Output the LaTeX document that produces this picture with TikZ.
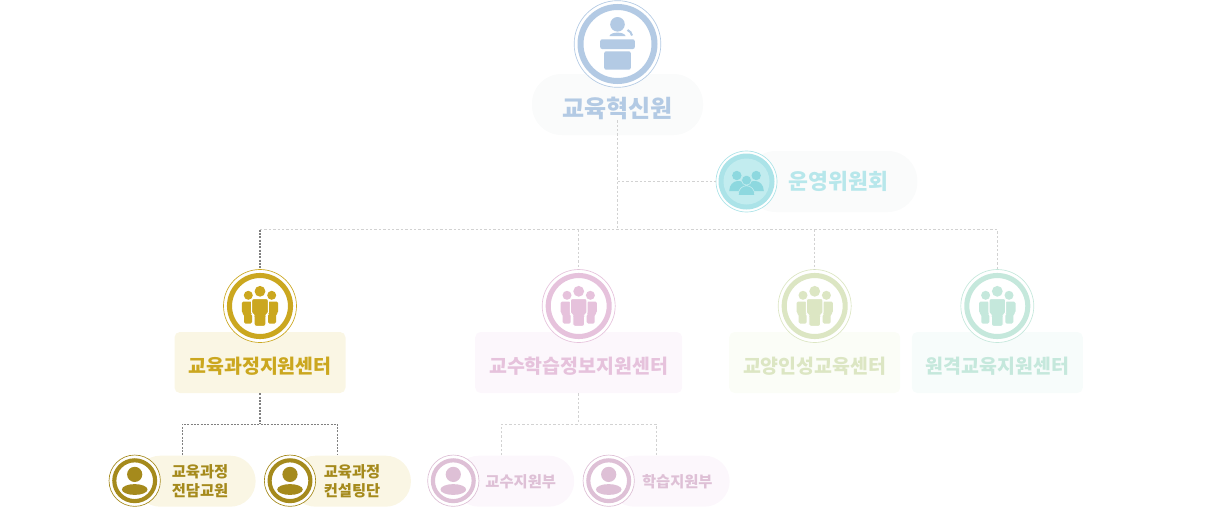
\documentclass[tikz,border=0pt]{standalone}
\usepackage{fontspec}
\setmainfont{Noto Sans CJK KR}
\definecolor{TopBlue}{HTML}{B3CAE4}
\definecolor{TopSoft}{HTML}{FAFBFB}
\definecolor{TeamCyan}{HTML}{ABE3E8}
\definecolor{TeamIcon}{HTML}{8DD8DF}
\definecolor{TeamInner}{HTML}{C2ECEF}
\definecolor{TeamText}{HTML}{B7E7EB}
\definecolor{GoldMain}{HTML}{CBA71F}
\definecolor{GoldSoft}{HTML}{FAF6E4}
\definecolor{GoldDeep}{HTML}{A58A1C}
\definecolor{PinkMain}{HTML}{E6C2DC}
\definecolor{PinkSoft}{HTML}{FCF7FC}
\definecolor{PinkDeep}{HTML}{DEC0D6}
\definecolor{LimeMain}{HTML}{DCE6C3}
\definecolor{LimeSoft}{HTML}{FBFDF7}
\definecolor{MintMain}{HTML}{C5E8DC}
\definecolor{MintSoft}{HTML}{F7FCFB}
\definecolor{LaneGray}{HTML}{D2D2D2}
\definecolor{LaneDark}{HTML}{808080}
\tikzset{
  lane/.style={LaneGray,line width=.75pt,dash pattern=on 1.8pt off 1.5pt},
  lanedark/.style={LaneDark,line width=1pt,dash pattern=on 1.5pt off 1pt},
  thinring/.style={circle,draw=#1,line width=.5pt,fill=white,inner sep=0pt},
  ringbig/.style={thinring=#1,minimum size=65pt},
  ringmid/.style={thinring=#1,minimum size=54.75pt},
  ringsmall/.style={thinring=#1,minimum size=38.5pt},
  pillbox/.style={rounded corners=22pt,minimum height=45.75pt,inner sep=0pt},
  subpill/.style={rounded corners=19pt,minimum height=38.25pt,inner sep=0pt},
  centerbox/.style={rounded corners=4pt,minimum height=45.75pt,inner sep=0pt},
  toplabel/.style={font=\bfseries\fontsize{18pt}{20pt}\selectfont,inner sep=0pt},
  teamlabel/.style={font=\bfseries\fontsize{16.2pt}{19pt}\selectfont,inner sep=0pt},
  centerlabel/.style={font=\bfseries\fontsize{14.6pt}{17pt}\selectfont,inner sep=0pt},
  sublabel/.style={font=\bfseries\fontsize{11.5pt}{14pt}\selectfont,inner sep=0pt,align=center},
  pics/speaker/.style={code={
    \draw[#1,line width=4.5pt] (0,0) circle (37);
    \fill[#1] (0,-19.7) circle (7.3);
    \fill[#1] (-8,-8) .. controls (-7,-12.5) and (7,-12.5) .. (8,-8) -- cycle;
    \draw[#1,line width=1.5pt] (10,-14) .. controls (12.5,-13) and (14,-11) .. (14.5,-8.5);
    \fill[#1,rounded corners=1.5pt] (-17.3,-4.7) rectangle (17.3,5);
    \fill[#1,rounded corners=1.5pt] (-13.3,7.3) rectangle (13.3,25.7);
  }},
  pics/crowd/.style={code={
    \draw[#1,line width=3.8pt] (0,0) circle (30.5);
    \fill[#1] (0,-14.7) circle (5.4);
    \foreach \sd in {-1,1}{
      \fill[#1] (\sd*11.7,-10.7) circle (4.5);
      \fill[#1,rounded corners=1.2pt] (\sd*18.2,-4.5) -- (\sd*8,-4.5) -- (\sd*8,17.7) -- (\sd*16,17.7) -- (\sd*16,8) -- (\sd*18.2,7) -- cycle;
    }
    \fill[#1,draw=white,line width=.8pt,rounded corners=1.5pt] (-8.3,-7.5) -- (8.3,-7.5) -- (8.3,8.5) -- (5.9,9) -- (5.9,20.3) -- (-5.9,20.3) -- (-5.9,9) -- (-8.3,8.5) -- cycle;
  }},
  pics/team/.style={code={
    \fill[TeamCyan] (0,0) circle (28);
    \fill[TeamInner] (0,0) circle (23);
    \foreach \sd in {-1,1}{
      \fill[#1] (\sd*9.7,-6) circle (4.7);
      \fill[#1] (\sd*17.3,9.5) .. controls (\sd*17,-3) and (\sd*2,-3) .. (\sd*1,5) -- (\sd*1,9.5) -- cycle;
    }
    \fill[#1,draw=TeamInner,line width=.5pt] (0,-1.3) circle (5);
    \fill[#1,draw=TeamInner,line width=.5pt] (-8.3,14) .. controls (-8.5,1) and (8.5,1) .. (8.3,14) -- cycle;
  }},
  pics/person/.style={code={
    \draw[#1,line width=3.1pt] (0,0) circle (20.4);
    \fill[#1] (0,-6.3) circle (7.6);
    \fill[#1] (0,8.8) ellipse (12.8 and 5.4);
  }},
}
\begin{document}
\begin{tikzpicture}[x=.75pt,y=-.75pt]
  \useasboundingbox (0,0) rectangle (1210,511);
  % head of the chart
  \node[pillbox,fill=TopSoft,minimum width=128.25pt] (topPill) at (617.5,104.5) {};
  \node[ringbig=TopBlue] (topIcon) at (617.5,44) {};
  \pic at (topIcon) {speaker=TopBlue};
  \node[toplabel,text=TopBlue] (topLabel) at (617.5,108.5) {교육혁신원};
  \node[pillbox,fill=TopSoft,minimum width=128.25pt,anchor=west] (teamPill) at (746,181.5) {};
  \node[ringmid=TeamCyan,minimum size=45.75pt] (teamIcon) at (746.5,181.5) {};
  \pic at (teamIcon) {team=TeamIcon};
  \node[teamlabel,text=TeamText] (teamLabel) at (838.5,181.5) {운영위원회};
  % the four centres
  \foreach \nm/\cx/\bw/\col/\soft/\lab in {gold/260/171/GoldMain/GoldSoft/교육과정지원센터,pink/578.7/207/PinkMain/PinkSoft/교수학습정보지원센터,lime/814.7/171/LimeMain/LimeSoft/교양인성교육센터,mint/997.3/171/MintMain/MintSoft/원격교육지원센터}{
    \node[centerbox,fill=\soft,minimum width=\bw*.75pt] (\nm Box) at (\cx,362.5) {};
    \node[ringmid=\col] (\nm Icon) at (\cx,306) {};
    \pic at (\nm Icon) {crowd=\col};
    \node[centerlabel,text=\col] (\nm Label) at (\cx,366.5) {\lab};
  }
  % small units
  \foreach \nm/\cx/\tx/\col/\soft/\ink/\lab in {goldA/134.7/200/GoldDeep/GoldSoft/GoldDeep/{교육과정\\전담교원},goldB/290/352/GoldDeep/GoldSoft/GoldDeep/{교육과정\\컨설팅단},pinkA/453.3/520.7/PinkDeep/PinkSoft/PinkDeep/교수지원부,pinkB/608.7/677.3/PinkDeep/PinkSoft/PinkDeep/학습지원부}{
    \node[subpill,fill=\soft,minimum width=90.5pt,anchor=west] (\nm Pill) at (\cx,481.2) {};
    \node[ringsmall=\col] (\nm Icon) at (\cx,480.7) {};
    \pic at (\nm Icon) {person=\col};
    \node[sublabel,text=\ink] (\nm Label) at (\tx,481.5) {\lab};
  }
  % connectors
  \coordinate (hub) at (617.5,229.5);
  \coordinate (goldFork) at (260,424);
  \coordinate (goldForkL) at (182,424);
  \coordinate (goldForkR) at (337.5,424);
  \coordinate (pinkFork) at (578.7,424);
  \coordinate (pinkForkL) at (501,424);
  \coordinate (pinkForkR) at (656.5,424);
  \draw[lane] (topLabel.south) -- (hub);
  \draw[lane] (topLabel.south |- teamIcon) -- (teamIcon.west);
  \draw[lane] (hub -| goldIcon) -- (hub -| mintIcon) -- (mintIcon.north);
  \draw[lanedark] (hub -| goldIcon) -- (goldIcon.north);
  \draw[lane] (hub -| pinkIcon) -- (pinkIcon.north);
  \draw[lane] (hub -| limeIcon) -- (limeIcon.north);
  \draw[lanedark] (goldBox.south) -- (goldFork);
  \draw[lanedark,line width=.7pt] (goldForkL |- goldAPill.north) -- (goldForkL) -- (goldForkR) -- (goldForkR |- goldBPill.north);
  \draw[lane] (pinkBox.south) -- (pinkFork);
  \draw[lane] (pinkForkL |- pinkAPill.north) -- (pinkForkL) -- (pinkForkR) -- (pinkForkR |- pinkBPill.north);
\end{tikzpicture}
\end{document}
